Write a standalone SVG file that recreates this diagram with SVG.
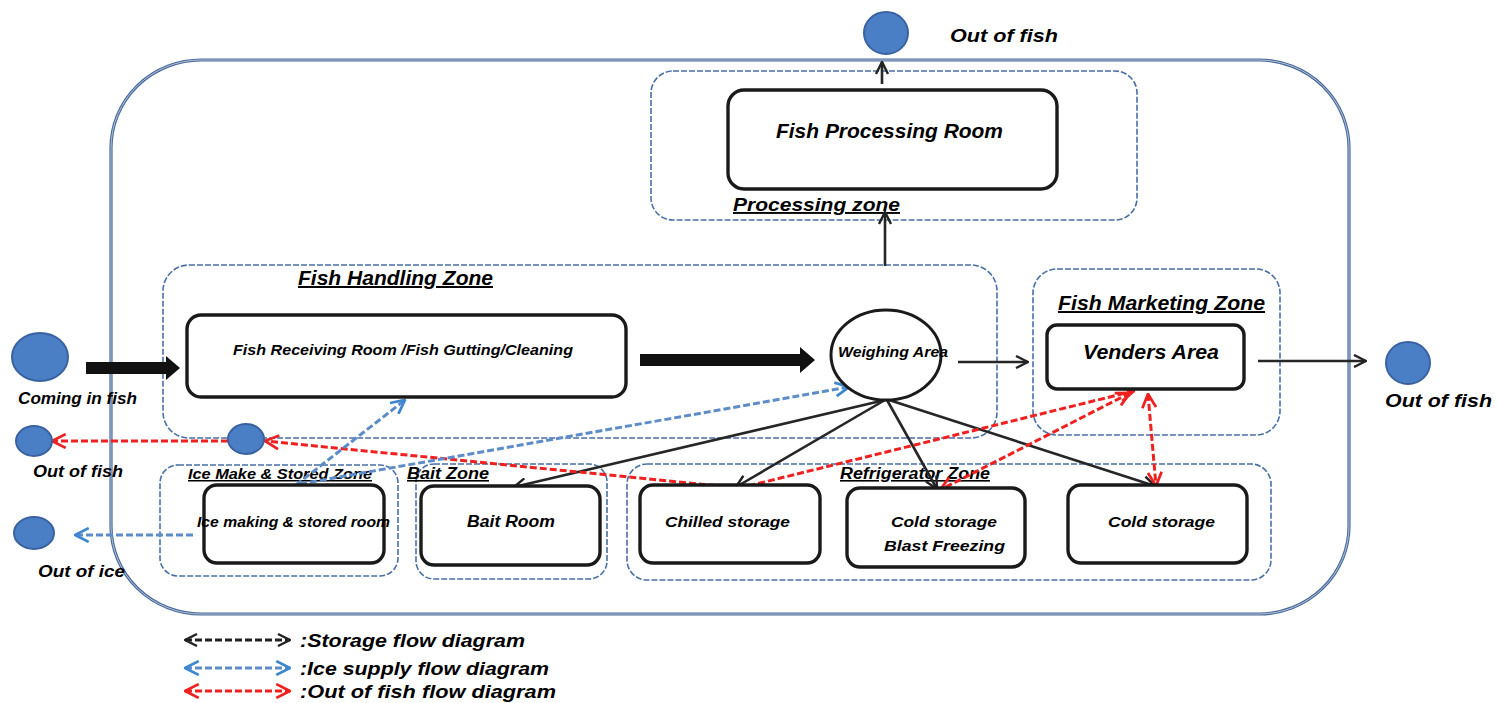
<svg xmlns="http://www.w3.org/2000/svg" width="1497" height="703" viewBox="0 0 1497 703">
<defs>
<style>
.t{font-family:"Liberation Sans",Arial,sans-serif;font-weight:bold;font-style:italic;fill:#000}
.u{text-decoration:underline}
.zone{fill:none;stroke:#4a6fa5;stroke-width:1.6;stroke-dasharray:6 2}
.box{fill:#fff;stroke:#1a1a1a;stroke-width:3.4}
.dot{fill:#4a7fc6;stroke:#3a62a0;stroke-width:2}
.blk{fill:none;stroke:#262626;stroke-width:2.6}
.red{fill:none;stroke:#ee2020;stroke-width:3;stroke-dasharray:7 3}
.blu{fill:none;stroke:#5d8cc8;stroke-width:3;stroke-dasharray:7 3}
</style>
<marker id="ab" viewBox="0 0 14 14" refX="13" refY="7" markerWidth="14" markerHeight="14" markerUnits="userSpaceOnUse" orient="auto-start-reverse"><path d="M1,1 L13,7 L1,13" fill="none" stroke="#222" stroke-width="2.4"/></marker>
<marker id="ar" viewBox="0 0 14 14" refX="13" refY="7" markerWidth="16" markerHeight="16" markerUnits="userSpaceOnUse" orient="auto-start-reverse"><path d="M1,1 L13,7 L1,13" fill="none" stroke="#ee2020" stroke-width="2.4"/></marker>
<marker id="al" viewBox="0 0 14 14" refX="13" refY="7" markerWidth="16" markerHeight="16" markerUnits="userSpaceOnUse" orient="auto-start-reverse"><path d="M1,1 L13,7 L1,13" fill="none" stroke="#3d86d0" stroke-width="2.4"/></marker>
</defs>
<rect width="1497" height="703" fill="#fff"/>

<g id="outer-frame">
<rect x="111" y="60" width="1238" height="554" rx="90" ry="88" fill="none" stroke="#4a6b9c" stroke-width="3.2"/>
<rect x="111" y="60" width="1238" height="554" rx="90" ry="88" fill="none" stroke="#b3c2d6" stroke-width="1"/>
</g>

<g id="zones">
<g id="processing-zone"><rect class="zone" x="651" y="71" width="486" height="149" rx="22"/><text class="t u" x="733" y="211" font-size="19" textLength="167" lengthAdjust="spacingAndGlyphs">Processing zone</text></g>
<g id="fish-handling-zone"><rect class="zone" x="163" y="265" width="834" height="173" rx="26"/><text class="t u" x="298" y="285" font-size="20" textLength="195" lengthAdjust="spacingAndGlyphs">Fish Handling Zone</text></g>
<g id="fish-marketing-zone"><rect class="zone" x="1033" y="269" width="247" height="166" rx="24"/><text class="t u" x="1058" y="310" font-size="20" textLength="207" lengthAdjust="spacingAndGlyphs">Fish Marketing Zone</text></g>
<g id="ice-zone"><rect class="zone" x="160" y="465" width="238" height="111" rx="18"/><text class="t u" x="188" y="479" font-size="15" textLength="184" lengthAdjust="spacingAndGlyphs">Ice Make &amp; Stored Zone</text></g>
<g id="bait-zone"><rect class="zone" x="416" y="464" width="191" height="115" rx="18"/><text class="t u" x="407" y="479" font-size="16" textLength="82" lengthAdjust="spacingAndGlyphs">Bait Zone</text></g>
<g id="refrigerator-zone"><rect class="zone" x="627" y="464" width="644" height="116" rx="20"/><text class="t u" x="840" y="479" font-size="16" textLength="150" lengthAdjust="spacingAndGlyphs">Refrigerator Zone</text></g>
</g>

<g id="connectors">
<polygon points="86,362 166,362 166,356 180,368 166,380 166,374 86,374" fill="#111"/>
<polygon points="640,354 800,354 800,347 815,360 800,373 800,366 640,366" fill="#111"/>
<line class="blk" x1="885" y1="266" x2="885" y2="212" marker-end="url(#ab)"/>
<line class="blk" x1="882" y1="84" x2="882" y2="62" marker-end="url(#ab)"/>
<line class="blk" x1="958" y1="362" x2="1028" y2="362" marker-end="url(#ab)"/>
<line class="blk" x1="1258" y1="361" x2="1366" y2="361" marker-end="url(#ab)"/>
<line class="blk" x1="885" y1="400" x2="514" y2="487" marker-end="url(#ab)"/>
<line class="blk" x1="885" y1="400" x2="736" y2="487" marker-end="url(#ab)"/>
<line class="blk" x1="887" y1="400" x2="937" y2="489" marker-end="url(#ab)"/>
<line class="blk" x1="889" y1="400" x2="1155" y2="486" marker-end="url(#ab)"/>
<polyline class="red" points="1134,391 740,488 265,441" marker-start="url(#ar)" marker-end="url(#ar)"/>
<line class="red" x1="1130" y1="393" x2="940" y2="490" marker-start="url(#ar)" marker-end="url(#ar)"/>
<line class="red" x1="1148" y1="394" x2="1156" y2="486" marker-start="url(#ar)" marker-end="url(#ar)"/>
<line class="red" x1="228" y1="441" x2="52" y2="441" marker-end="url(#ar)"/>
<line class="blu" x1="296" y1="485" x2="405" y2="400" marker-end="url(#al)"/>
<line class="blu" x1="300" y1="484" x2="849" y2="387" marker-end="url(#al)"/>
<line class="blu" x1="193" y1="535" x2="75" y2="535" marker-end="url(#al)"/>
</g>

<g id="fish-processing-room"><rect class="box" x="728" y="90" width="329" height="99" rx="16"/><text class="t" x="776" y="138" font-size="20" textLength="227" lengthAdjust="spacingAndGlyphs">Fish Processing Room</text></g>
<g id="fish-receiving-room"><rect class="box" x="187" y="315" width="439" height="82" rx="14"/><text class="t" x="233" y="355" font-size="15" textLength="340" lengthAdjust="spacingAndGlyphs">Fish Receiving Room /Fish Gutting/Cleaning</text></g>
<g id="weighing-area"><ellipse cx="886" cy="355" rx="55" ry="45" fill="#fff" stroke="#1a1a1a" stroke-width="3"/><text class="t" x="838" y="357" font-size="14" textLength="110" lengthAdjust="spacingAndGlyphs">Weighing Area</text></g>
<g id="venders-area"><rect class="box" x="1047" y="325" width="197" height="64" rx="10"/><text class="t" x="1083" y="359" font-size="20" textLength="136" lengthAdjust="spacingAndGlyphs">Venders Area</text></g>
<g id="ice-room"><rect class="box" x="204" y="485" width="180" height="78" rx="13"/><text class="t" x="197" y="527" font-size="14" textLength="193" lengthAdjust="spacingAndGlyphs">Ice making &amp; stored room</text></g>
<g id="bait-room"><rect class="box" x="421" y="486" width="179" height="79" rx="13"/><text class="t" x="467" y="527" font-size="16" textLength="88" lengthAdjust="spacingAndGlyphs">Bait Room</text></g>
<g id="chilled-storage"><rect class="box" x="640" y="485" width="180" height="78" rx="13"/><text class="t" x="665" y="527" font-size="15.5" textLength="125" lengthAdjust="spacingAndGlyphs">Chilled storage</text></g>
<g id="cold-storage-blast"><rect class="box" x="847" y="488" width="178" height="79" rx="13"/><text class="t" x="891" y="527" font-size="15.5" textLength="106" lengthAdjust="spacingAndGlyphs">Cold storage</text><text class="t" x="884" y="551" font-size="15.5" textLength="121" lengthAdjust="spacingAndGlyphs">Blast Freezing</text></g>
<g id="cold-storage"><rect class="box" x="1068" y="485" width="179" height="78" rx="13"/><text class="t" x="1108" y="527" font-size="15.5" textLength="107" lengthAdjust="spacingAndGlyphs">Cold storage</text></g>

<g id="coming-in-fish"><ellipse class="dot" cx="40" cy="357" rx="28" ry="24"/><text class="t" x="18" y="404" font-size="16" textLength="119" lengthAdjust="spacingAndGlyphs">Coming in fish</text></g>
<g id="out-fish-left"><ellipse class="dot" cx="34" cy="441" rx="18" ry="15"/><text class="t" x="33" y="477" font-size="16" textLength="90" lengthAdjust="spacingAndGlyphs">Out of fish</text></g>
<g id="fish-collect"><ellipse class="dot" cx="246" cy="439" rx="18" ry="15"/></g>
<g id="out-ice"><ellipse class="dot" cx="34" cy="533" rx="20" ry="16"/><text class="t" x="38" y="577" font-size="16" textLength="87" lengthAdjust="spacingAndGlyphs">Out of ice</text></g>
<g id="out-fish-top"><ellipse class="dot" cx="886" cy="33" rx="22" ry="21"/><text class="t" x="950" y="42" font-size="18" textLength="108" lengthAdjust="spacingAndGlyphs">Out of fish</text></g>
<g id="out-fish-right"><ellipse class="dot" cx="1408" cy="363" rx="22" ry="21"/><text class="t" x="1385" y="407" font-size="18" textLength="107" lengthAdjust="spacingAndGlyphs">Out of fish</text></g>

<g id="legend">
<line x1="185" y1="640" x2="290" y2="640" stroke="#222" stroke-width="3" stroke-dasharray="7 3" marker-start="url(#ab)" marker-end="url(#ab)"/>
<text class="t" x="300" y="647" font-size="19" textLength="225" lengthAdjust="spacingAndGlyphs">:Storage flow diagram</text>
<line x1="185" y1="668" x2="290" y2="668" class="blu" marker-start="url(#al)" marker-end="url(#al)"/>
<text class="t" x="300" y="675" font-size="19" textLength="249" lengthAdjust="spacingAndGlyphs">:Ice supply flow diagram</text>
<line x1="185" y1="691" x2="290" y2="691" class="red" marker-start="url(#ar)" marker-end="url(#ar)"/>
<text class="t" x="300" y="698" font-size="19" textLength="256" lengthAdjust="spacingAndGlyphs">:Out of fish flow diagram</text>
</g>
</svg>
